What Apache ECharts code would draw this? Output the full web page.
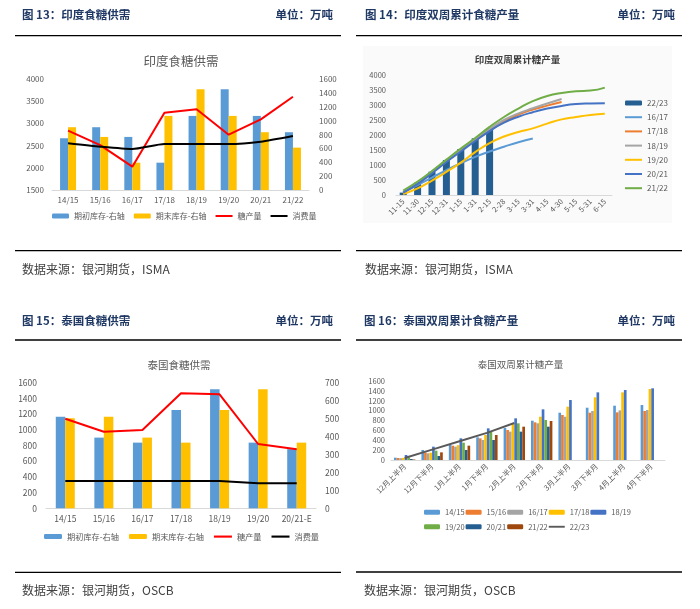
<!DOCTYPE html>
<html><head><meta charset="utf-8">
<script src="https://cdn.jsdelivr.net/npm/echarts@6/dist/echarts.min.js"></script>
<style>
html,body{margin:0;padding:0;background:#fff;}
#wrap{position:relative;width:700px;height:609px;overflow:hidden;background:#fff;}
.p{position:absolute;}
</style></head><body>
<div id="wrap">
<div id="p1" class="p" style="left:0;top:0;width:350px;height:305px"></div>
<div id="p2" class="p" style="left:350px;top:0;width:350px;height:305px"></div>
<div id="p3" class="p" style="left:0;top:305px;width:350px;height:304px"></div>
<div id="p4" class="p" style="left:350px;top:305px;width:350px;height:304px"></div>
</div>
<script>
// ---------- Panel 1: 印度食糖供需 ----------
const cats1 = ['14/15','15/16','16/17','17/18','18/19','19/20','20/21','21/22'];
const open1 = [746, 905, 765, 394, 1068, 1454, 1068, 833];
const close1 = [905, 765, 394, 1068, 1454, 1068, 833, 611];
const prod1 = [2836, 2510, 2025, 3241, 3317, 2745, 3092, 3601];
const cons1 = [2552, 2476, 2423, 2536, 2536, 2536, 2588, 2716];

// ---------- Panel 2: 印度双周累计糖产量 ----------
const cats2 = ['11-15','11-30','12-15','12-31','1-15','1-31','2-15','2-28','3-15','3-31','4-15','4-30','5-15','5-31','6-15'];
const in2223 = [80, 410, 777, 1167, 1533, 1890, 2223];
const in1617 = [90, 330, 580, 830, 1060, 1270, 1450, 1610, 1760, 1880];
const in1718 = [80, 380, 750, 1120, 1480, 1830, 2150, 2450, 2680, 2850, 2980, 3100];
const in1819 = [100, 400, 780, 1150, 1520, 1870, 2200, 2500, 2720, 2890, 3050, 3200];
const in1920 = [30, 220, 480, 770, 1080, 1430, 1730, 1950, 2100, 2220, 2380, 2520, 2600, 2670, 2710];
const in2021 = [80, 370, 730, 1100, 1450, 1800, 2130, 2410, 2610, 2760, 2880, 2970, 3030, 3050, 3060];
const in2122 = [150, 450, 800, 1180, 1550, 1900, 2270, 2600, 2880, 3130, 3300, 3400, 3460, 3480, 3580];

// ---------- Panel 3: 泰国食糖供需 ----------
const cats3 = ['14/15','15/16','16/17','17/18','18/19','19/20','20/21-E'];
const open3 = [510, 394, 366, 548, 663, 366, 330];
const close3 = [502, 510, 394, 366, 548, 663, 366];
const prod3 = [1140, 976, 998, 1465, 1452, 819, 752];
const cons3 = [348, 348, 348, 348, 348, 318, 318];

// ---------- Panel 4: 泰国双周累计糖产量 ----------
const cats4 = ['12月上半月','12月下半月','1月上半月','1月下半月','2月上半月','2月下半月','3月上半月','3月下半月','4月上半月','4月下半月'];
const th1415 = [47, 203, 304, 459, 650, 796, 958, 1059, 1100, 1114];
const th1516 = [40, 150, 290, 439, 608, 763, 911, 958, 965, 992];
const th1617 = [37, 135, 270, 405, 574, 743, 877, 992, 1005, 1012];
const th1718 = [44, 148, 300, 506, 743, 877, 1080, 1269, 1370, 1438];
const th1819 = [101, 270, 439, 641, 844, 1026, 1215, 1370, 1418, 1452];
const th1920 = [54, 189, 351, 574, 743, 810];
const th2021 = [20, 81, 203, 405, 574, 675];
const th2122 = [10, 155, 290, 506, 675, 790];
const th2223 = [40, 210, 380, 550, 750];

const FONT = '"Noto Sans CJK SC", "Noto Sans", sans-serif';
const NAVY = '#1F3864';
const AXC = '#595959';
const LINE_ICON = 'path://M0,0 L34,0 L34,4 L0,4 Z';
const plain = v => String(v);

function text(ox, oy, x, y, t, o) {
  o = o || {};
  return {type:'text', x: x - ox, y: y - oy, z: 10, style:{
    text: t, fill: o.fill || '#404040', fontSize: o.size || 12, fontWeight: o.weight || 'normal',
    fontFamily: FONT, align: o.align || 'left', textAlign: o.align || 'left',
    verticalAlign: 'middle', textVerticalAlign: 'middle'}};
}
function hline(ox, oy, x1, x2, y) {
  return {type:'line', z: 10, shape:{x1: x1 - ox, y1: y - oy, x2: x2 - ox, y2: y - oy}, style:{stroke:'#000', lineWidth:1.3}};
}
function frame(ox, oy, c) {
  return [
    text(ox, oy, c.hx, c.hy, c.head, {weight:'bold', size:11.5, fill:NAVY}),
    text(ox, oy, c.ux, c.hy, '单位：万吨', {weight:'bold', size:11.5, fill:NAVY, align:'right'}),
    hline(ox, oy, c.lx1, c.lx2, c.ly1),
    hline(ox, oy, c.lx1, c.lx2, c.ly2),
    text(ox, oy, c.hx, c.sy, c.src, {size:12, fill:'#404040'}),
    text(ox, oy, c.tx, c.ty, c.title, c.topt)
  ];
}
function grid(ox, oy, l, t, w, h) { return {left: l - ox, top: t - oy, width: w, height: h}; }
const xAxisBase = {type:'category', axisTick:{show:false}, axisLine:{lineStyle:{color:'#D9D9D9'}}};
const supplyLegend = ['期初库存-右轴','期末库存-右轴',{name:'糖产量', icon:LINE_ICON},{name:'消费量', icon:LINE_ICON}];

// Panel 1
(function(){
  const ox = 0, oy = 0;
  const c = echarts.init(document.getElementById('p1'), null, {renderer:'canvas'});
  c.setOption({
    animation:false, textStyle:{fontFamily:FONT},
    grid: grid(ox, oy, 52, 79, 257, 111),
    xAxis: Object.assign({}, xAxisBase, {data: cats1, axisLabel:{fontSize:8, color:AXC, margin:6, interval:0}}),
    yAxis: [
      {type:'value', min:1500, max:4000, interval:500, position:'left', splitLine:{show:false}, axisLine:{show:false}, axisTick:{show:false}, axisLabel:{fontSize:8, color:AXC, margin:8, formatter:plain}},
      {type:'value', min:0, max:1600, interval:200, position:'right', splitLine:{show:false}, axisLine:{show:false}, axisTick:{show:false}, axisLabel:{fontSize:8, color:AXC, margin:10, formatter:plain}}
    ],
    legend: {left:52 - ox, top:212 - oy, padding:0, itemWidth:17, itemHeight:5, itemGap:9, textStyle:{fontSize:8, color:AXC}, data:supplyLegend},
    series: [
      {name:'期初库存-右轴', type:'bar', yAxisIndex:1, data:open1, barWidth:8, barGap:'0%', itemStyle:{color:'#5B9BD5'}},
      {name:'期末库存-右轴', type:'bar', yAxisIndex:1, data:close1, barWidth:8, barGap:'0%', itemStyle:{color:'#FFC000'}},
      {name:'糖产量', type:'line', yAxisIndex:0, data:prod1, symbol:'none', lineStyle:{color:'#FF0000', width:2}, itemStyle:{color:'#FF0000'}},
      {name:'消费量', type:'line', yAxisIndex:0, data:cons1, symbol:'none', smooth:0.2, lineStyle:{color:'#000', width:2}, itemStyle:{color:'#000'}}
    ],
    graphic: frame(ox, oy, {head:'图 13：印度食糖供需', hx:22, hy:15, ux:333, lx1:15, lx2:341, ly1:35.7, ly2:250.7, sy:269,
      src:'数据来源：银河期货，ISMA', title:'印度食糖供需', tx:181, ty:61.5, topt:{size:12.5, fill:'#595959', align:'center'}})
  });
})();

// Panel 2
(function(){
  const ox = 350, oy = 0;
  const c = echarts.init(document.getElementById('p2'), null, {renderer:'canvas'});
  const g = frame(ox, oy, {head:'图 14：印度双周累计食糖产量', hx:365, hy:15, ux:675, lx1:356, lx2:682, ly1:35.7, ly2:250.7, sy:269,
      src:'数据来源：银河期货，ISMA', title:'印度双周累计糖产量', tx:517.5, ty:59, topt:{size:9.5, weight:'bold', fill:'#404040', align:'center'}});
  g.unshift({type:'rect', z:-10, shape:{x:363 - ox, y:46 - oy, width:309, height:177}, style:{fill:'#FAFAFA'}});
  const ln = (name, data, color) => ({name, type:'line', data, smooth:true, symbol:'none', lineStyle:{color, width:2}, itemStyle:{color}});
  c.setOption({
    animation:false, textStyle:{fontFamily:FONT},
    grid: grid(ox, oy, 396, 75, 216, 120),
    xAxis: Object.assign({}, xAxisBase, {data: cats2, axisLabel:{fontSize:7.5, color:AXC, margin:5, rotate:45, interval:0}}),
    yAxis: {type:'value', min:0, max:4000, interval:500, splitLine:{show:false}, axisLine:{show:false}, axisTick:{show:false}, axisLabel:{fontSize:7.5, color:AXC, margin:10, formatter:plain}},
    legend: {orient:'vertical', left:625 - ox, top:98 - oy, padding:0, itemWidth:17, itemHeight:5, itemGap:4.2, textStyle:{fontSize:8, color:AXC, lineHeight:10},
      data:['22/23', ...['16/17','17/18','18/19','19/20','20/21','21/22'].map(n => ({name:n, icon:LINE_ICON}))]},
    series: [
      {name:'22/23', type:'bar', data:in2223, barWidth:7, itemStyle:{color:'#255E91'}},
      ln('16/17', in1617, '#5B9BD5'),
      ln('17/18', in1718, '#ED7D31'),
      ln('18/19', in1819, '#A5A5A5'),
      ln('19/20', in1920, '#FFC000'),
      ln('20/21', in2021, '#4472C4'),
      ln('21/22', in2122, '#70AD47')
    ],
    graphic: g
  });
})();

// Panel 3
(function(){
  const ox = 0, oy = 305;
  const c = echarts.init(document.getElementById('p3'), null, {renderer:'canvas'});
  c.setOption({
    animation:false, textStyle:{fontFamily:FONT},
    grid: grid(ox, oy, 46, 382.7, 270, 125.6),
    xAxis: Object.assign({}, xAxisBase, {data: cats3, axisLabel:{fontSize:8.5, color:AXC, margin:6, interval:0}}),
    yAxis: [
      {type:'value', min:0, max:1600, interval:200, position:'left', splitLine:{show:false}, axisLine:{show:false}, axisTick:{show:false}, axisLabel:{fontSize:8.5, color:AXC, margin:9, formatter:plain}},
      {type:'value', min:0, max:700, interval:100, position:'right', splitLine:{show:false}, axisLine:{show:false}, axisTick:{show:false}, axisLabel:{fontSize:8.5, color:AXC, margin:9, formatter:plain}}
    ],
    legend: {left:44 - ox, top:532.5 - oy, padding:0, itemWidth:18, itemHeight:5, itemGap:10, textStyle:{fontSize:8.2, color:AXC}, data:supplyLegend},
    series: [
      {name:'期初库存-右轴', type:'bar', yAxisIndex:1, data:open3, barWidth:9.5, barGap:'0%', itemStyle:{color:'#5B9BD5'}},
      {name:'期末库存-右轴', type:'bar', yAxisIndex:1, data:close3, barWidth:9.5, barGap:'0%', itemStyle:{color:'#FFC000'}},
      {name:'糖产量', type:'line', yAxisIndex:0, data:prod3, symbol:'none', lineStyle:{color:'#FF0000', width:2}, itemStyle:{color:'#FF0000'}},
      {name:'消费量', type:'line', yAxisIndex:0, data:cons3, symbol:'none', lineStyle:{color:'#000', width:2}, itemStyle:{color:'#000'}}
    ],
    graphic: frame(ox, oy, {head:'图 15：泰国食糖供需', hx:22, hy:320.7, ux:333, lx1:15, lx2:341, ly1:340, ly2:572.3, sy:590.7,
      src:'数据来源：银河期货，OSCB', title:'泰国食糖供需', tx:179, ty:365.5, topt:{size:10.5, fill:'#595959', align:'center'}})
  });
})();

// Panel 4
(function(){
  const ox = 350, oy = 305;
  const c = echarts.init(document.getElementById('p4'), null, {renderer:'canvas'});
  const br = (name, data, color) => ({name, type:'bar', data, barGap:'0%', barCategoryGap:'22%', itemStyle:{color}});
  c.setOption({
    animation:false, textStyle:{fontFamily:FONT},
    grid: grid(ox, oy, 391, 381, 274, 79),
    xAxis: Object.assign({}, xAxisBase, {data: cats4, axisLabel:{fontSize:7.5, color:AXC, margin:5, rotate:45, interval:0}}),
    yAxis: {type:'value', min:0, max:1600, interval:200, splitLine:{show:false}, axisLine:{show:false}, axisTick:{show:false}, axisLabel:{fontSize:7.5, color:AXC, margin:6, formatter:plain}},
    legend: [
      {left:424 - ox, top:508.5 - oy, padding:0, itemWidth:16, itemHeight:5, itemGap:1, textStyle:{fontSize:7.5, color:AXC},
        data:['14/15','15/16','16/17','17/18','18/19']},
      {left:424 - ox, top:523 - oy, padding:0, itemWidth:16, itemHeight:5, itemGap:1, textStyle:{fontSize:7.5, color:AXC},
        data:['19/20','20/21','21/22',{name:'22/23', icon:LINE_ICON}]}
    ],
    series: [
      br('14/15', th1415, '#5B9BD5'),
      br('15/16', th1516, '#ED7D31'),
      br('16/17', th1617, '#A5A5A5'),
      br('17/18', th1718, '#FFC000'),
      br('18/19', th1819, '#4472C4'),
      br('19/20', th1920, '#70AD47'),
      br('20/21', th2021, '#255E91'),
      br('21/22', th2122, '#9E480E'),
      {name:'22/23', type:'line', data:th2223, symbol:'none', lineStyle:{color:'#595959', width:2}, itemStyle:{color:'#595959'}}
    ],
    graphic: frame(ox, oy, {head:'图 16：泰国双周累计食糖产量', hx:364, hy:320.7, ux:675, lx1:356, lx2:682, ly1:340, ly2:572, sy:590.7,
      src:'数据来源：银河期货，OSCB', title:'泰国双周累计糖产量', tx:520.5, ty:364, topt:{size:9.5, fill:'#595959', align:'center'}})
  });
})();
</script>
</body></html>
